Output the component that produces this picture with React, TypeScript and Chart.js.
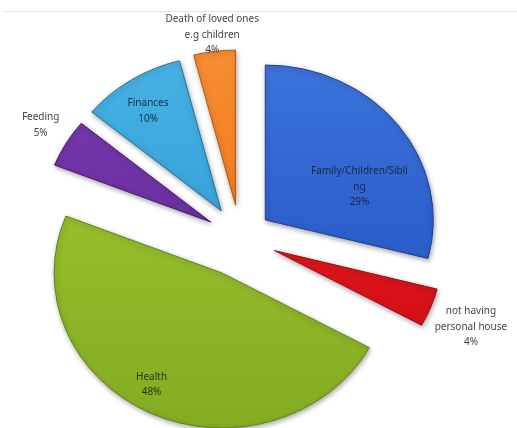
import React, { useEffect, useRef } from 'react';
import { Chart, registerables } from 'chart.js';

Chart.register(...registerables);

// ---- data ----
const categories = [
  'Family/Children/Siblings',
  'not having personal house',
  'Health',
  'Feeding',
  'Finances',
  'Death of loved ones e.g children',
];
const values = [29, 4, 48, 5, 10, 4];
const labelLines = [
  ['Family/Children/Sibli', 'ng'],
  ['not having', 'personal house'],
  ['Health'],
  ['Feeding'],
  ['Finances'],
  ['Death of loved ones', 'e.g children'],
];

// ---- styles ----
const colors = ['#2c5fcc', '#e1141c', '#93bd2b', '#6a2e9f', '#34a0d6', '#f27b1f'];
const lightColors = ['#3d74dc', '#f0262c', '#a3ca35', '#7a3cb0', '#48b2e4', '#f78c30'];
const darkColors = ['#2252b8', '#c80c14', '#84ad22', '#5c2590', '#2b90c4', '#e06c14'];
const borderColors = ['#1d3f8f', '#9c0a10', '#5f7f17', '#45196b', '#1f6f99', '#b4540c'];
const explodePx = [32, 37, 42, 34, 35, 36];
const labelRadius = [0.6, 1.27, 0.835, 1.19, 0.777, 1.107];
const labelAngleShift = [17, 1.3, 5, 1.1, -1.7, 0];
const labelColors = ['#1c2440', '#444', '#2a3510', '#444', '#10304a', '#444'];
const Y_SCALE = 0.922;
const RADIUS = 168;
const W = 517;
const H = 428;

const total = values.reduce((a, b) => a + b, 0);

const center = (chart: any) => {
  const a = chart.chartArea;
  return { cx: (a.left + a.right) / 2, cy: (a.top + a.bottom) / 2 };
};

const explodePlugin = {
  id: 'explodeEllipse',
  beforeDraw(chart: any) {
    const { ctx } = chart;
    ctx.save();
    ctx.strokeStyle = '#e2e2e2';
    ctx.lineWidth = 1;
    ctx.beginPath();
    ctx.moveTo(3, 11.5);
    ctx.lineTo(W, 11.5);
    ctx.stroke();
    ctx.restore();
  },
  beforeDatasetsDraw(chart: any) {
    const { ctx } = chart;
    const { cx, cy } = center(chart);
    const meta = chart.getDatasetMeta(0);
    meta.data.forEach((el: any, i: number) => {
      const mid = (el.startAngle + el.endAngle) / 2;
      el.x = cx + Math.cos(mid) * explodePx[i];
      el.y = cy + Math.sin(mid) * explodePx[i];
    });
    ctx.save();
    ctx.translate(cx, cy);
    ctx.scale(1, Y_SCALE);
    ctx.translate(-cx, -cy);
    ctx.shadowColor = 'rgba(0,0,0,0.35)';
    ctx.shadowBlur = 5;
    ctx.shadowOffsetX = 1;
    ctx.shadowOffsetY = 2;
  },
  afterDatasetsDraw(chart: any) {
    chart.ctx.restore();
  },
  afterDraw(chart: any) {
    const { ctx } = chart;
    const { cx, cy } = center(chart);
    const meta = chart.getDatasetMeta(0);
    ctx.save();
    ctx.font = '10px "Noto Sans"';
    ctx.textAlign = 'center';
    ctx.textBaseline = 'middle';
    meta.data.forEach((el: any, i: number) => {
      const mid = (el.startAngle + el.endAngle) / 2;
      const ox = cx + Math.cos(mid) * explodePx[i];
      const oy = cy + Math.sin(mid) * explodePx[i];
      const a = mid + (labelAngleShift[i] * Math.PI) / 180;
      const lx = ox + Math.cos(a) * RADIUS * labelRadius[i];
      const ly = oy + Math.sin(a) * RADIUS * labelRadius[i];
      const fy = cy + (ly - cy) * Y_SCALE;
      const lines = [...labelLines[i], Math.round((values[i] / total) * 100) + '%'];
      const lh = 15.5;
      ctx.fillStyle = labelColors[i];
      lines.forEach((t, k) => {
        ctx.fillText(t, lx, fy + (k - (lines.length - 1) / 2) * lh);
      });
    });
    ctx.restore();
  },
};

export default function App() {
  const ref = useRef<HTMLCanvasElement>(null);
  useEffect(() => {
    if (!ref.current) return;
    const c2d = ref.current.getContext('2d')!;
    const fills = colors.map((_, i) => {
      const g = c2d.createLinearGradient(0, 40, 0, H);
      g.addColorStop(0, lightColors[i]);
      g.addColorStop(0.5, colors[i]);
      g.addColorStop(1, darkColors[i]);
      return g;
    });
    const chart = new Chart(ref.current, {
      type: 'pie',
      data: {
        labels: categories,
        datasets: [
          {
            data: values,
            backgroundColor: fills,
            borderColor: borderColors,
            borderWidth: 1,
            clip: false as any,
          },
        ],
      },
      options: {
        responsive: false,
        animation: false,
        events: [],
        radius: RADIUS,
        layout: { padding: { left: 0, right: 37, top: 48, bottom: 0 } },
        plugins: { legend: { display: false }, tooltip: { enabled: false } },
      } as any,
      plugins: [explodePlugin],
    });
    return () => chart.destroy();
  }, []);
  return (
    <div style={{ position: 'fixed', left: 0, top: 0, width: W, height: H, background: '#fff' }}>
      <canvas ref={ref} width={W} height={H} style={{ display: 'block' }} />
    </div>
  );
}
